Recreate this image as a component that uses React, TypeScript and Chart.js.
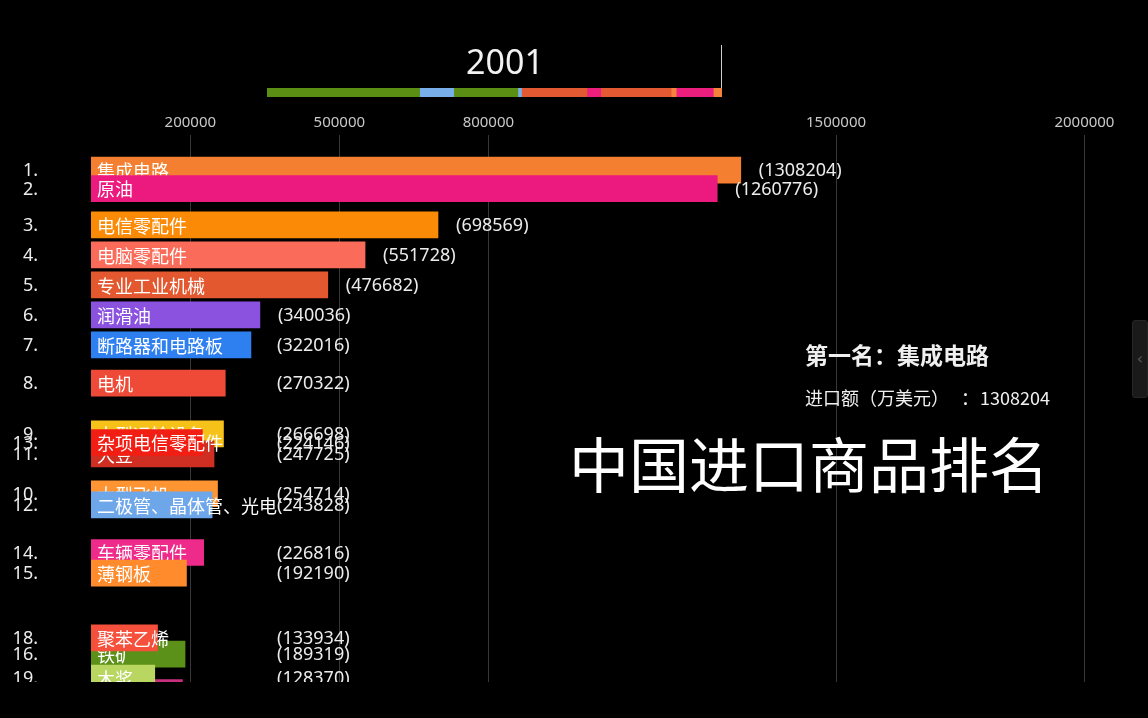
import React, { useEffect, useRef } from "react";
import { Chart, registerables } from "chart.js";

Chart.register(...registerables);

// ---- data (frame of the race, year 2001) ----
const year = "2001";
const names = [
  "集成电路", "原油", "电信零配件", "电脑零配件", "专业工业机械", "润滑油", "断路器和电路板", "电机",
  "大型运输设备", "大型飞机", "大豆", "二极管、晶体管、光电", "杂项电信零配件", "车辆零配件", "薄钢板",
  "铁矿", "钢材", "聚苯乙烯", "木浆",
];
const ranks = [1, 2, 3, 4, 5, 6, 7, 8, 9, 10, 11, 12, 13, 14, 15, 16, 17, 18, 19];
// rank position mid-transition (interpolated rank shown in the frame)
const displayRank = [1.17, 1.79, 3, 4, 5, 6, 7, 8.28, 9.97, 11.97, 10.64, 12.34, 10.26, 13.93, 14.62, 17.32, 18.6, 16.78, 18.12];
const values = [
  1308204, 1260776, 698569, 551728, 476682, 340036, 322016, 270322,
  266698, 254714, 247725, 243828, 224146, 226816, 192190,
  189319, 184000, 133934, 128370,
];
const barColors = [
  "#F47F30", "#EC1A7E", "#FB8A06", "#FA6B5A", "#E3582F", "#8B52E0", "#2E7FF0", "#EF4A37",
  "#F6C21A", "#FF9433", "#CF2E22", "#6EA6EA", "#F21E14", "#EE2A8A", "#FF8B2C",
  "#5B9118", "#C8307F", "#F4503C", "#B8D660",
];
const tickValues = [200000, 500000, 800000, 1500000, 2000000];

// top timeline strip: leader over time (relative durations)
const timelineSpans = [152.3, 34, 64, 3.7, 65.3, 13.7, 70.3, 5, 37, 8.7];
const timelineColors = [
  "#5B8F14", "#78AEEA", "#5B8F14", "#78AEEA", "#E35A32", "#EC1E7E", "#E35A32", "#F5823A", "#EC1E7E", "#F5823A",
];

const titleText = "中国进口商品排名";

const CJK = '"Noto Sans CJK SC", "Noto Sans", sans-serif';

export default function App() {
  const mainRef = useRef<HTMLCanvasElement | null>(null);
  const tlRef = useRef<HTMLCanvasElement | null>(null);

  useEffect(() => {
    if (!mainRef.current || !tlRef.current) return;

    const labelPlugin = {
      id: "barLabels",
      afterDatasetDraw(chart: any, args: any) {
        const i = args.index;
        const el = args.meta.data[0];
        if (!el) return;
        const ctx = chart.ctx;
        const area = chart.chartArea;
        ctx.save();
        ctx.beginPath();
        ctx.rect(0, 0, chart.width, area.bottom);
        ctx.clip();
        ctx.textBaseline = "middle";
        ctx.fillStyle = "#ffffff";
        ctx.font = `18px ${CJK}`;
        ctx.textAlign = "left";
        ctx.fillText(names[i], area.left + 6, el.y + 1);
        ctx.fillStyle = "#ececec";
        ctx.font = `18px "Noto Sans", sans-serif`;
        ctx.textAlign = "right";
        ctx.fillText(ranks[i] + ".", 38, el.y + 1);
        ctx.textAlign = "left";
        const xv = Math.max(el.x + 18, area.left + 186);
        ctx.fillText(`(${values[i]})`, xv, el.y + 1);
        ctx.restore();
      },
      afterDraw(chart: any) {
        const ctx = chart.ctx;
        ctx.save();
        ctx.fillStyle = "#f2f2f2";
        ctx.textBaseline = "middle";
        ctx.textAlign = "center";
        ctx.font = `34px "Noto Sans", sans-serif`;
        ctx.fillText(year, 505, 64);
        ctx.strokeStyle = "#d0d0d0";
        ctx.lineWidth = 1;
        ctx.beginPath();
        ctx.moveTo(721.5, 45);
        ctx.lineTo(721.5, 97);
        ctx.stroke();
        ctx.textAlign = "left";
        ctx.fillStyle = "#f0f0f0";
        ctx.font = `bold 23px ${CJK}`;
        ctx.fillText(`第一名：${names[0]}`, 805, 355);
        ctx.font = `18px ${CJK}`;
        ctx.fillText("进口额（万美元）", 805, 398);
        ctx.fillText("：", 961, 398);
        ctx.fillText(String(values[0]), 980, 398);
        ctx.fillStyle = "#ffffff";
        ctx.font = `60px ${CJK}`;
        ctx.fillText(titleText, 569, 465);
        ctx.restore();
      },
    };

    const datasets = names.map((n, i) => ({
      label: n,
      data: [{ x: values[i], y: displayRank[i] }],
      backgroundColor: barColors[i],
      borderWidth: 0,
      barThickness: 26,
      grouped: false,
      order: -i,
    }));

    const main = new Chart(mainRef.current, {
      type: "bar",
      data: { datasets } as any,
      options: {
        indexAxis: "y",
        responsive: false,
        animation: false,
        layout: { padding: { left: 91, right: 0, top: 0, bottom: 36 } },
        plugins: { legend: { display: false }, tooltip: { enabled: false } },
        scales: {
          x: {
            type: "linear",
            position: "top",
            min: 0,
            max: 2128000,
            afterFit: (scale: any) => {
              scale.height = 135;
            },
            afterBuildTicks: (scale: any) => {
              scale.ticks = tickValues.map((v) => ({ value: v }));
            },
            ticks: {
              color: "#c8c8c8",
              font: { family: "Noto Sans", size: 15 },
              padding: 3,
              autoSkip: false,
              maxRotation: 0,
              callback: (v: any) => String(v),
            },
            grid: { color: "rgba(255,255,255,0.22)", drawTicks: false, lineWidth: 1 },
            border: { display: false },
          },
          y: {
            type: "linear",
            display: false,
            reverse: true,
            offset: false,
            min: 0,
            max: 18.25,
          },
        },
      } as any,
      plugins: [labelPlugin],
    });

    const total = timelineSpans.reduce((a, b) => a + b, 0);
    const tl = new Chart(tlRef.current, {
      type: "bar",
      data: {
        labels: [""],
        datasets: timelineSpans.map((s, i) => ({
          data: [s],
          backgroundColor: timelineColors[i],
          borderWidth: 0,
          barPercentage: 1,
          categoryPercentage: 1,
        })),
      },
      options: {
        indexAxis: "y",
        responsive: false,
        animation: false,
        layout: { padding: 0 },
        plugins: { legend: { display: false }, tooltip: { enabled: false } },
        scales: {
          x: { stacked: true, display: false, min: 0, max: total },
          y: { stacked: true, display: false },
        },
      } as any,
    });

    return () => {
      main.destroy();
      tl.destroy();
    };
  }, []);

  return (
    <div style={{ position: "fixed", left: 0, top: 0, width: 1148, height: 718, background: "#000", overflow: "hidden" }}>
      <canvas ref={mainRef} width={1148} height={718} style={{ position: "absolute", left: 0, top: 0, display: "block" }} />
      <canvas ref={tlRef} width={455} height={9} style={{ position: "absolute", left: 267, top: 88, display: "block" }} />
      <div
        style={{
          position: "absolute",
          left: 1132,
          top: 320,
          width: 16,
          height: 78,
          background: "#1a1a1a",
          border: "1px solid #262626",
          borderRadius: 3,
          boxSizing: "border-box",
          color: "#555",
          fontFamily: "DejaVu Sans, sans-serif",
          fontSize: 16,
          lineHeight: "76px",
          textAlign: "center",
        }}
      >
        ‹
      </div>
    </div>
  );
}
